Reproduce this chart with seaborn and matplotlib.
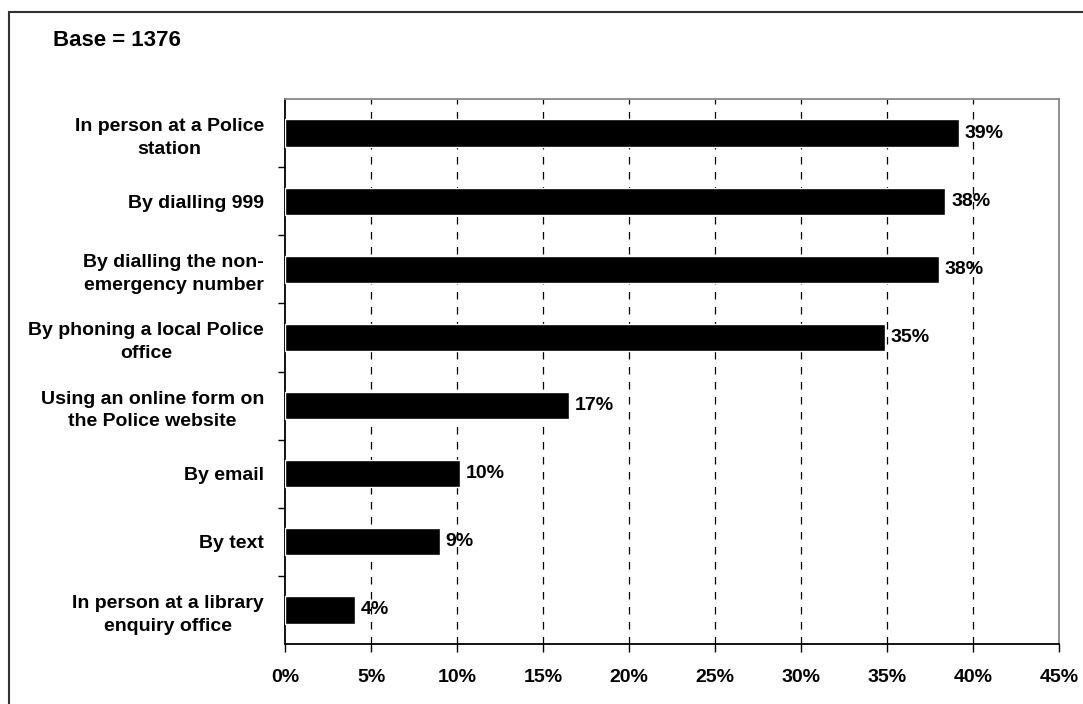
import matplotlib
matplotlib.use("Agg")
import matplotlib.pyplot as plt
import seaborn as sns
import pandas as pd
from matplotlib.patches import Rectangle

categories = [
    "In person at a Police\nstation",
    "By dialling 999",
    "By dialling the non-\nemergency number",
    "By phoning a local Police\noffice",
    "Using an online form on\nthe Police website",
    "By email",
    "By text",
    "In person at a library\nenquiry office",
]
values = [39.2, 38.4, 38.0, 34.9, 16.5, 10.2, 9.0, 4.07]
value_labels = ["39%", "38%", "38%", "35%", "17%", "10%", "9%", "4%"]
x_ticks = [0, 5, 10, 15, 20, 25, 30, 35, 40, 45]
x_tick_labels = [f"{t}%" for t in x_ticks]
base_text = "Base = 1376"

sns.set_style("white")
plt.rcParams['font.family'] = ['Liberation Sans', 'DejaVu Sans']
plt.rcParams['font.weight'] = 'bold'
plt.rcParams['text.color'] = 'black'
plt.rcParams['xtick.color'] = 'black'
plt.rcParams['ytick.color'] = 'black'
plt.rcParams['xtick.labelcolor'] = 'black'
plt.rcParams['ytick.labelcolor'] = 'black'

df = pd.DataFrame({"cat": categories, "val": values})

fig = plt.figure(figsize=(10.83, 7.04), dpi=100)
fig.patch.set_facecolor("white")
ax = fig.add_axes([285/1083, 1-644/704, (1059-285)/1083, (644-99)/704])

sns.barplot(data=df, x="val", y="cat", orient="h", color="black",
            width=0.4, saturation=1, ax=ax, zorder=3)

ax.set_xlim(0, 45)
ax.set_ylim(len(categories)-0.5, -0.5)
ax.set_xticks(x_ticks)
ax.set_xticklabels(x_tick_labels, fontsize=14, fontweight='bold', color='black')
ax.set_xlabel("")
ax.set_ylabel("")
ax.set_yticks(range(len(categories)))
ax.set_yticklabels(categories, fontsize=14, fontweight='bold', color='black',
                   multialignment='center', linespacing=1.45)
ax.tick_params(axis='y', which='major', left=False, length=0, pad=15)
ax.set_yticks([i + 0.5 for i in range(len(categories)-1)], minor=True)
ax.tick_params(axis='y', which='minor', left=True, length=5, width=1, color='black', direction='out')
ax.tick_params(axis='x', which='major', bottom=True, length=6, width=1, color='black', direction='out', pad=12)

for xv in x_ticks[1:-1]:
    ax.axvline(xv, color='black', lw=0.9, ls=(0, (6, 6)), zorder=1)

for s in ['left', 'bottom']:
    ax.spines[s].set_color('black')
    ax.spines[s].set_linewidth(1.3)
for s in ['top', 'right']:
    ax.spines[s].set_color('#888888')
    ax.spines[s].set_linewidth(1.3)
    ax.spines[s].set_visible(True)

for i, (v, lab) in enumerate(zip(values, value_labels)):
    ax.annotate(lab, xy=(v, i), xytext=(4, 0), textcoords='offset points',
                va='center', ha='left', fontsize=14, fontweight='bold', color='black', zorder=4)

fig.text(53/1083, 1-40/704, base_text, fontsize=16, fontweight='bold', color='black',
         ha='left', va='center')

fig.patches.append(Rectangle((9/1083, -0.1), 1.2, 1.1 - 12/704, transform=fig.transFigure,
                             fill=False, edgecolor='#333333', lw=1.5))

fig.savefig("out.png", dpi=100)
